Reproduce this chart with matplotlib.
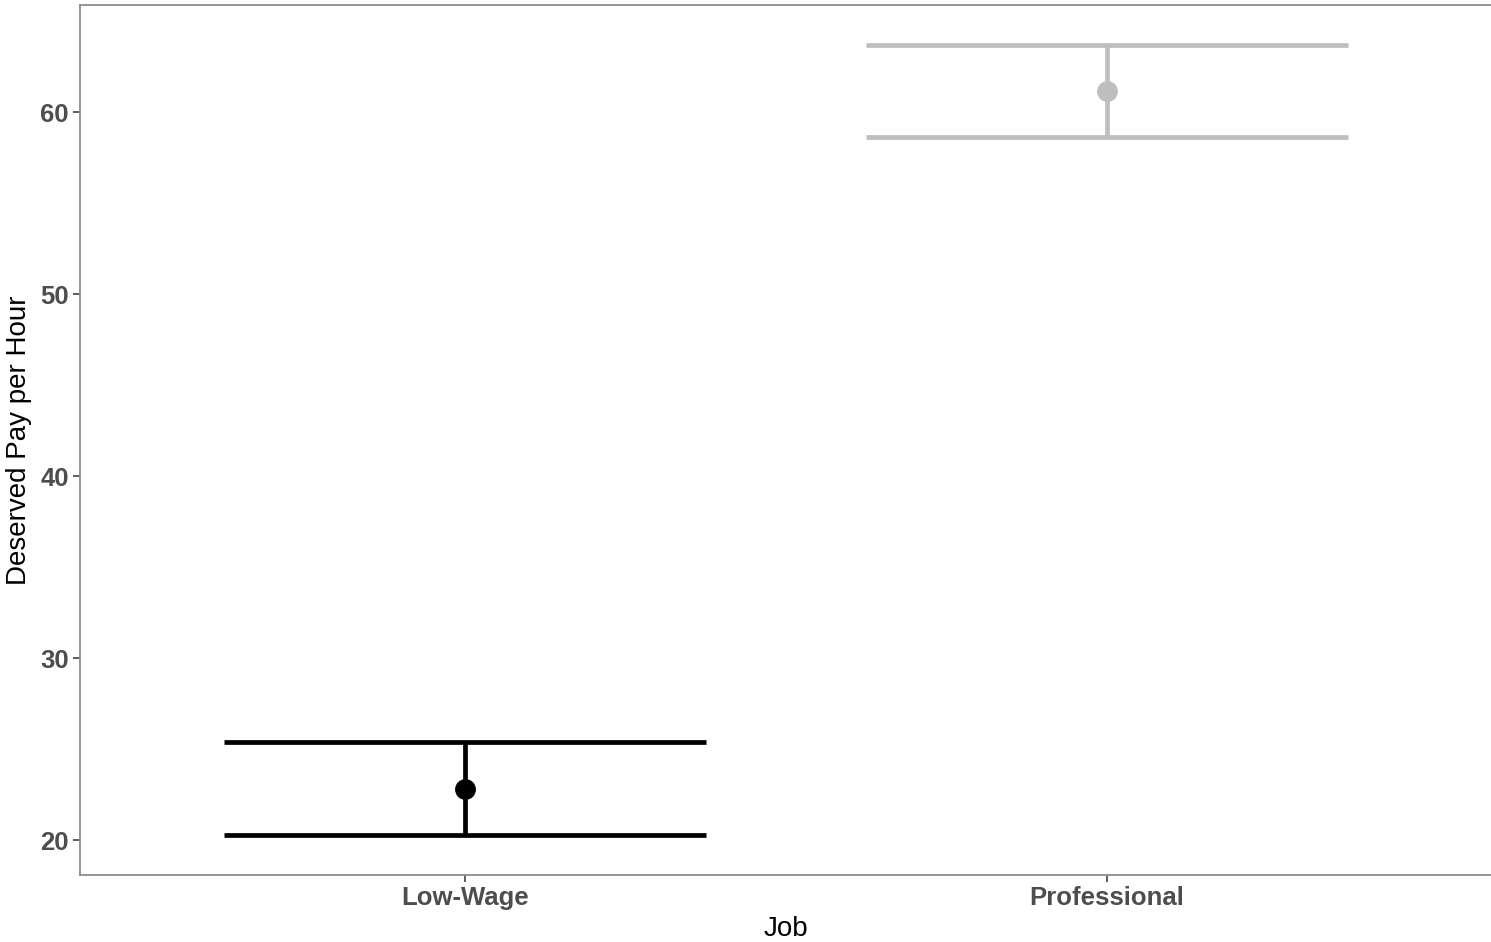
import matplotlib
matplotlib.use('Agg')

import matplotlib.pyplot as plt

# Mean deserved hourly pay by job type, with interval bounds
jobs = ["Low-Wage", "Professional"]
means = [22.85, 61.15]
lower = [20.27, 58.63]
upper = [25.38, 63.73]
colors = ["black", "#bebebe"]
cap_width = 0.75

plt.rcParams['font.family'] = ['Liberation Sans', 'DejaVu Sans']

fig = plt.figure(figsize=(14.91, 9.42), dpi=100)
ax = fig.add_axes([80 / 1491, 1 - 875 / 942, 1412 / 1491, 870 / 942])

xpos = list(range(1, len(jobs) + 1))
for x, m, lo, hi, c in zip(xpos, means, lower, upper, colors):
    ax.vlines(x, lo, hi, color=c, lw=3.4)
    ax.hlines([lo, hi], x - cap_width / 2, x + cap_width / 2, color=c, lw=3.4)
    ax.plot(x, m, 'o', color=c, ms=14)

span = max(upper) - min(lower)
ax.set_ylim(min(lower) - 0.05 * span, max(upper) + 0.05 * span)
ax.set_xlim(0.4, 2.6)
ax.set_xticks(xpos)
ax.set_xticklabels(jobs)
ax.set_yticks([20, 30, 40, 50, 60])

for side in ['left', 'bottom', 'top']:
    ax.spines[side].set_color('#8c8c8c')
    ax.spines[side].set_linewidth(1.3)
ax.spines['right'].set_color('#ececec')

ax.tick_params(axis='both', colors='#333333', length=5, width=1.1,
               labelsize=18.5, labelcolor='#4d4d4d', pad=3)
for lbl in ax.get_xticklabels() + ax.get_yticklabels():
    lbl.set_fontweight('bold')

ax.set_xlabel("Job", fontsize=20, labelpad=4)
ax.set_ylabel("Deserved Pay per Hour", fontsize=20, labelpad=6)

fig.savefig("out.png", dpi=100)
